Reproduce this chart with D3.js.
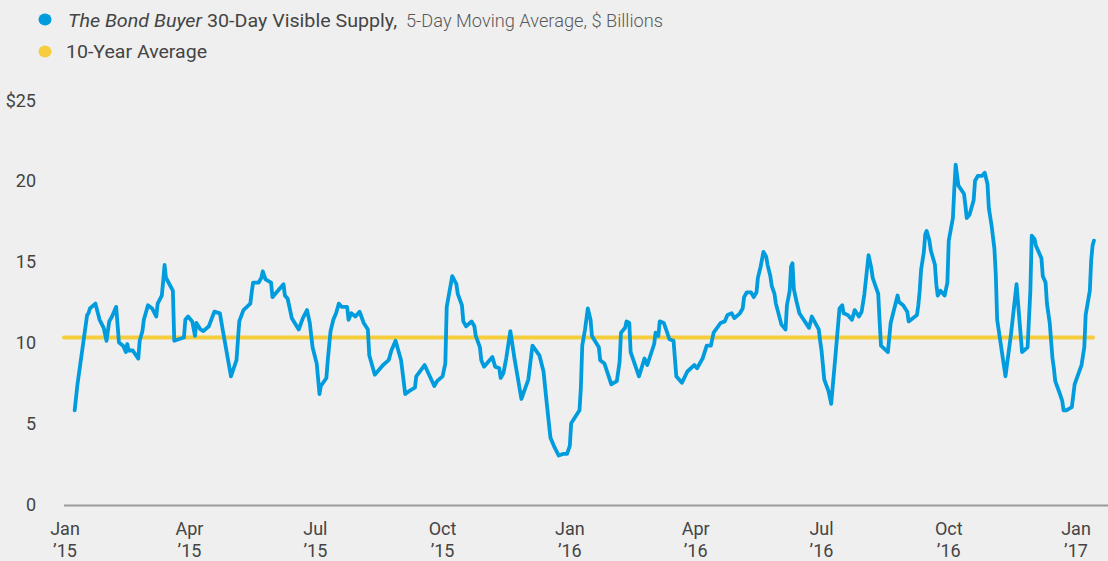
<!DOCTYPE html>
<html>
<head>
<meta charset="utf-8">
<script src="https://cdn.jsdelivr.net/npm/d3@7"></script>
<style>
  html, body { margin: 0; padding: 0; background: #efefef; }
  svg { display: block; font-family: Roboto, "Noto Sans", sans-serif; }
</style>
</head>
<body>
<div id="chart"></div>
<script>
// days since Jan 1 2015
const supplyDays = [
  7, 8, 9, 16, 17, 18, 22, 25, 28, 30, 32, 34, 37, 39, 42, 44, 45, 46, 49, 53, 54, 56, 57, 60, 63, 66, 67, 70, 71, 72, 73, 78, 79,
  86, 87, 89, 92, 94, 95, 98, 100, 104, 108, 112, 114, 120, 124, 126, 129, 134, 135, 136, 140, 142, 143, 145, 149, 150, 153, 158,
  159, 161, 164, 169, 172, 175, 177, 179, 182, 184, 185, 189, 190, 192, 194, 196, 198, 200, 204, 205, 207, 210, 213, 216, 219,
  220, 224, 230, 234, 236, 239, 243, 246, 249, 253, 254, 260, 267, 269, 273, 275, 276, 280, 283, 284, 287, 288, 290, 294, 296,
  297, 300, 301, 303, 307, 309, 311, 314, 315, 317, 319, 322, 325, 330, 335, 338, 343, 346, 348, 351, 354, 357, 360, 363, 365,
  366, 372, 373, 374, 376, 378, 380, 381, 386, 387, 390, 395, 399, 401, 402, 405, 406, 408, 409, 415, 419, 421, 426, 427, 429,
  430, 433, 437, 440, 442, 446, 450, 455, 457, 461, 464, 467, 469, 474, 477, 479, 482, 484, 488, 490, 491, 493, 496, 498, 500,
  501, 503, 505, 507, 508, 510, 511, 513, 514, 518, 521, 522, 524, 525, 526, 527, 529, 531, 538, 540, 545, 546, 547, 548, 549,
  552, 554, 557, 560, 562, 563, 566, 569, 571, 574, 576, 578, 581, 583, 584, 588, 589, 590, 595, 596, 597, 602, 603, 606, 609,
  610, 616, 617, 618, 619, 621, 622, 623, 625, 626, 629, 630, 631, 633, 636, 638, 639, 642, 643, 644, 646, 650, 651, 652, 654,
  657, 658, 660, 663, 665, 667, 668, 670, 672, 673, 674, 680, 684, 688, 692, 696, 698, 699, 701, 702, 703, 706, 707, 709, 710,
  712, 714, 715, 716, 719, 721, 722, 724, 728, 729, 730, 735, 737, 738, 741, 742, 743, 744
];

// $ billions, 5-day moving average
const supplyValues = [
  5.8, 6.6, 7.4, 11.7, 11.8, 12.1, 12.4, 11.4, 10.9, 10.1, 11.3, 11.6, 12.2, 10.0, 9.8, 9.4, 9.9, 9.5, 9.5, 9.0, 10.1, 10.7, 11.4, 12.3, 12.1, 11.6, 12.4, 12.9, 13.8, 14.8, 14.0, 13.2, 10.1,
  10.3, 11.4, 11.6, 11.3, 10.4, 11.2, 10.8, 10.7, 11.0, 11.9, 11.8, 10.8, 7.9, 8.9, 11.3, 12.0, 12.4, 13.1, 13.7, 13.7, 14.0, 14.4, 13.9, 13.7, 12.8, 13.1, 13.6,
  12.9, 12.7, 11.5, 10.8, 11.5, 12.0, 11.2, 9.7, 8.7, 6.8, 7.3, 7.8, 8.9, 10.7, 11.4, 11.8, 12.4, 12.2, 12.2, 11.4, 11.8, 11.6, 11.9, 11.2, 10.8,
  9.2, 8.0, 8.6, 8.9, 9.5, 10.1, 8.9, 6.8, 7.0, 7.2, 7.9, 8.6, 7.3, 7.6, 7.9, 8.7, 12.2, 14.1, 13.6, 13.0, 12.3, 11.3, 11.0, 11.3, 11.0,
  10.4, 9.7, 8.9, 8.5, 8.9, 9.1, 8.5, 8.4, 7.8, 8.1, 9.0, 10.7, 9.0, 6.5, 7.7, 9.8, 9.2, 8.2, 6.5, 4.1, 3.5, 3.0, 3.1, 3.1, 3.6,
  5.0, 5.8, 7.2, 9.8, 10.8, 12.1, 11.4, 10.4, 9.7, 8.9, 8.7, 7.4, 7.6, 8.8, 10.6, 10.9, 11.3, 11.2, 9.4, 7.9, 9.0, 8.6, 9.9, 10.6, 10.4,
  11.3, 11.2, 10.2, 10.1, 7.9, 7.5, 8.2, 8.6, 8.4, 9.0, 9.8, 9.8, 10.6, 11.2, 11.3, 11.7, 11.8, 11.5, 11.8, 12.1, 12.8, 13.1, 13.1, 12.8, 13.1,
  14.0, 14.7, 15.6, 15.3, 14.8, 14.1, 13.5, 13.0, 12.4, 11.1, 10.8, 12.3, 13.2, 14.7, 14.9, 13.3, 12.5, 11.8, 10.9, 11.6, 10.8, 10.1, 9.5, 8.6, 7.7,
  7.0, 6.2, 9.1, 12.1, 12.3, 11.8, 11.7, 11.4, 12.0, 11.6, 11.9, 13.0, 15.4, 14.6, 14.0, 13.0, 11.3, 9.8, 9.4, 10.3, 11.2, 12.9, 12.5, 12.3, 11.9,
  11.3, 11.7, 12.3, 13.2, 14.5, 15.6, 16.7, 16.9, 16.3, 15.7, 14.8, 13.6, 12.9, 13.2, 12.9, 13.7, 16.3, 17.7, 19.5, 21.0, 19.7, 19.2, 18.5, 17.7, 17.9,
  18.8, 20.0, 20.3, 20.3, 20.5, 19.8, 18.3, 17.2, 15.8, 14.2, 11.4, 7.9, 10.5, 13.6, 9.4, 9.7, 13.2, 16.6, 16.4, 16.0, 15.8, 15.2, 14.1, 13.7, 12.4,
  11.2, 9.0, 8.4, 7.6, 6.9, 6.4, 5.8, 5.8, 6.0, 6.7, 7.4, 8.6, 9.7, 11.7, 13.2, 15.1, 16.0, 16.3
];

const tenYearAverage = 10.3;
const yTicks = [0, 5, 10, 15, 20, 25];
const xTickMonths = ["2015-01-01", "2015-04-01", "2015-07-01", "2015-10-01", "2016-01-01",
                     "2016-04-01", "2016-07-01", "2016-10-01", "2017-01-01"];

const width = 1108, height = 561;
const start = new Date(2015, 0, 1);
const parse = d3.timeParse("%Y-%m-%d");

const data = supplyDays.map((d, i) => ({ date: d3.timeDay.offset(start, d), value: supplyValues[i] }));

const x = d3.scaleTime()
  .domain([start, new Date(2017, 0, 1)])
  .range([65, 1076]);

const y = d3.scaleLinear()
  .domain([0, 25])
  .range([504, 100]);

const svg = d3.select("#chart").append("svg")
  .attr("width", width)
  .attr("height", height);

// legend - the original type is a wide-set face, so stretch each piece to its width
const legendText = (xPos, yPos, len, str) => svg.append("text")
  .attr("x", xPos).attr("y", yPos)
  .attr("font-size", 18)
  .attr("fill", "#444")
  .attr("textLength", len)
  .attr("lengthAdjust", "spacingAndGlyphs")
  .text(str);

svg.append("ellipse")
  .attr("cx", 45).attr("cy", 19.5).attr("rx", 6.5).attr("ry", 6)
  .attr("fill", "#009cde");
legendText(68, 26.5, 134, "The Bond Buyer").attr("font-style", "italic");
legendText(207, 26.5, 190, "30-Day Visible Supply,");
legendText(406, 26.5, 257, "5-Day Moving Average, $ Billions")
  .attr("fill", "#595959")
  .attr("font-weight", 300);

svg.append("ellipse")
  .attr("cx", 45).attr("cy", 51.5).attr("rx", 6.5).attr("ry", 6)
  .attr("fill", "#f6cd3d");
legendText(66, 57.5, 141, "10-Year Average");

// y labels
svg.append("g")
  .selectAll("text")
  .data(yTicks).enter()
  .append("text")
  .attr("x", 36)
  .attr("y", d => y(d) + 6.5)
  .attr("text-anchor", "end")
  .attr("font-size", 18)
  .attr("fill", "#444")
  .text(d => d === 25 ? "$25" : d);

// baseline
svg.append("line")
  .attr("x1", 64).attr("x2", width)
  .attr("y1", y(0) + 1.5).attr("y2", y(0) + 1.5)
  .attr("stroke", "#9a9a9a")
  .attr("stroke-width", 2);

// x labels, two lines
const monthFmt = d3.timeFormat("%b");
const yearFmt = d3.timeFormat("’%y");
const xLabels = svg.append("g")
  .selectAll("text")
  .data(xTickMonths.map(parse)).enter()
  .append("text")
  .attr("text-anchor", "middle")
  .attr("font-size", 18)
  .attr("fill", "#444");
xLabels.append("tspan")
  .attr("x", d => x(d)).attr("y", 535)
  .text(d => monthFmt(d));
xLabels.append("tspan")
  .attr("x", d => x(d)).attr("y", 557)
  .text(d => yearFmt(d));

// 10-year average
svg.append("line")
  .attr("x1", 64).attr("x2", 1093)
  .attr("y1", y(tenYearAverage)).attr("y2", y(tenYearAverage))
  .attr("stroke", "#f6cd3d")
  .attr("stroke-width", 4)
  .attr("stroke-linecap", "round");

// visible supply
const line = d3.line()
  .x(d => x(d.date))
  .y(d => y(d.value));

svg.append("path")
  .datum(data)
  .attr("d", line)
  .attr("fill", "none")
  .attr("stroke", "#009cde")
  .attr("stroke-width", 3.8)
  .attr("stroke-linejoin", "round")
  .attr("stroke-linecap", "round");
</script>
</body>
</html>
